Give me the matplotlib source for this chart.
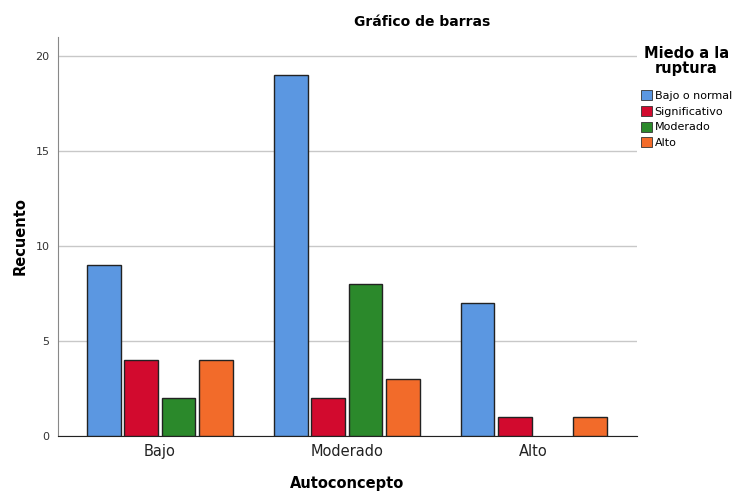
import matplotlib.pyplot as plt
import numpy as np
from matplotlib.patches import Patch

# Data
categories = ["Bajo", "Moderado", "Alto"]
series_names = ["Bajo o normal", "Significativo", "Moderado", "Alto"]
bajo_normal = [9, 19, 7]
significativo = [4, 2, 1]
moderado = [2, 8, 0]
alto = [4, 3, 1]
series_values = [bajo_normal, significativo, moderado, alto]
colors = ["#5B97E1", "#D20A2E", "#2B892B", "#F26B2A"]

fig = plt.figure(figsize=(7.37, 4.92), dpi=100)
ax = fig.add_axes([0.0787, 0.1138, 0.785, 0.811])

x = np.arange(len(categories))
width = 0.18
step = 0.2
for i, (vals, col) in enumerate(zip(series_values, colors)):
    bars = ax.bar(x + (i - 1.5) * step, vals, width, color=col, edgecolor="#222222",
                  linewidth=1.0, zorder=3)
    # empty cells get no outline
    for b, v in zip(bars, vals):
        if v == 0:
            b.set_visible(False)

ax.set_xlim(-0.545, 2.55)
ax.set_ylim(0, 21)
ax.set_yticks([0, 5, 10, 15, 20])
ax.set_xticks(x)
ax.set_xticklabels(categories, fontsize=10.5, color="#222222")
ax.tick_params(axis="y", labelsize=8, colors="#333333", length=0, pad=6)
ax.tick_params(axis="x", length=0, pad=6)

ax.grid(axis="y", color="#C8C8C8", linewidth=1.0, zorder=0)
ax.spines["top"].set_visible(False)
ax.spines["right"].set_visible(False)
ax.spines["left"].set_color("#888888")
ax.spines["bottom"].set_color("#222222")

ax.set_ylabel("Recuento", fontsize=10.5, fontweight="bold", labelpad=6)
ax.set_xlabel("Autoconcepto", fontsize=10.5, fontweight="bold", labelpad=12)

fig.text(0.573, 0.955, "Gráfico de barras", ha="center", va="center",
         fontsize=10, fontweight="bold")

handles = [Patch(facecolor=c, edgecolor="#333333", linewidth=0.6) for c in colors]
leg = fig.legend(handles, series_names, loc="upper left",
                 bbox_to_anchor=(0.864, 0.915), frameon=False, fontsize=8,
                 title="Miedo a la\nruptura", handlelength=1.0, handleheight=1.0,
                 handletextpad=0.2, labelspacing=0.45, borderaxespad=0)
leg.get_title().set_fontweight("bold")
leg.get_title().set_fontsize(10.5)
leg.get_title().set_multialignment("center")
leg.get_title().set_linespacing(1.0)
leg._legend_box.align = "center"
leg._legend_box.sep = 10

fig.savefig("out.png", dpi=100)
